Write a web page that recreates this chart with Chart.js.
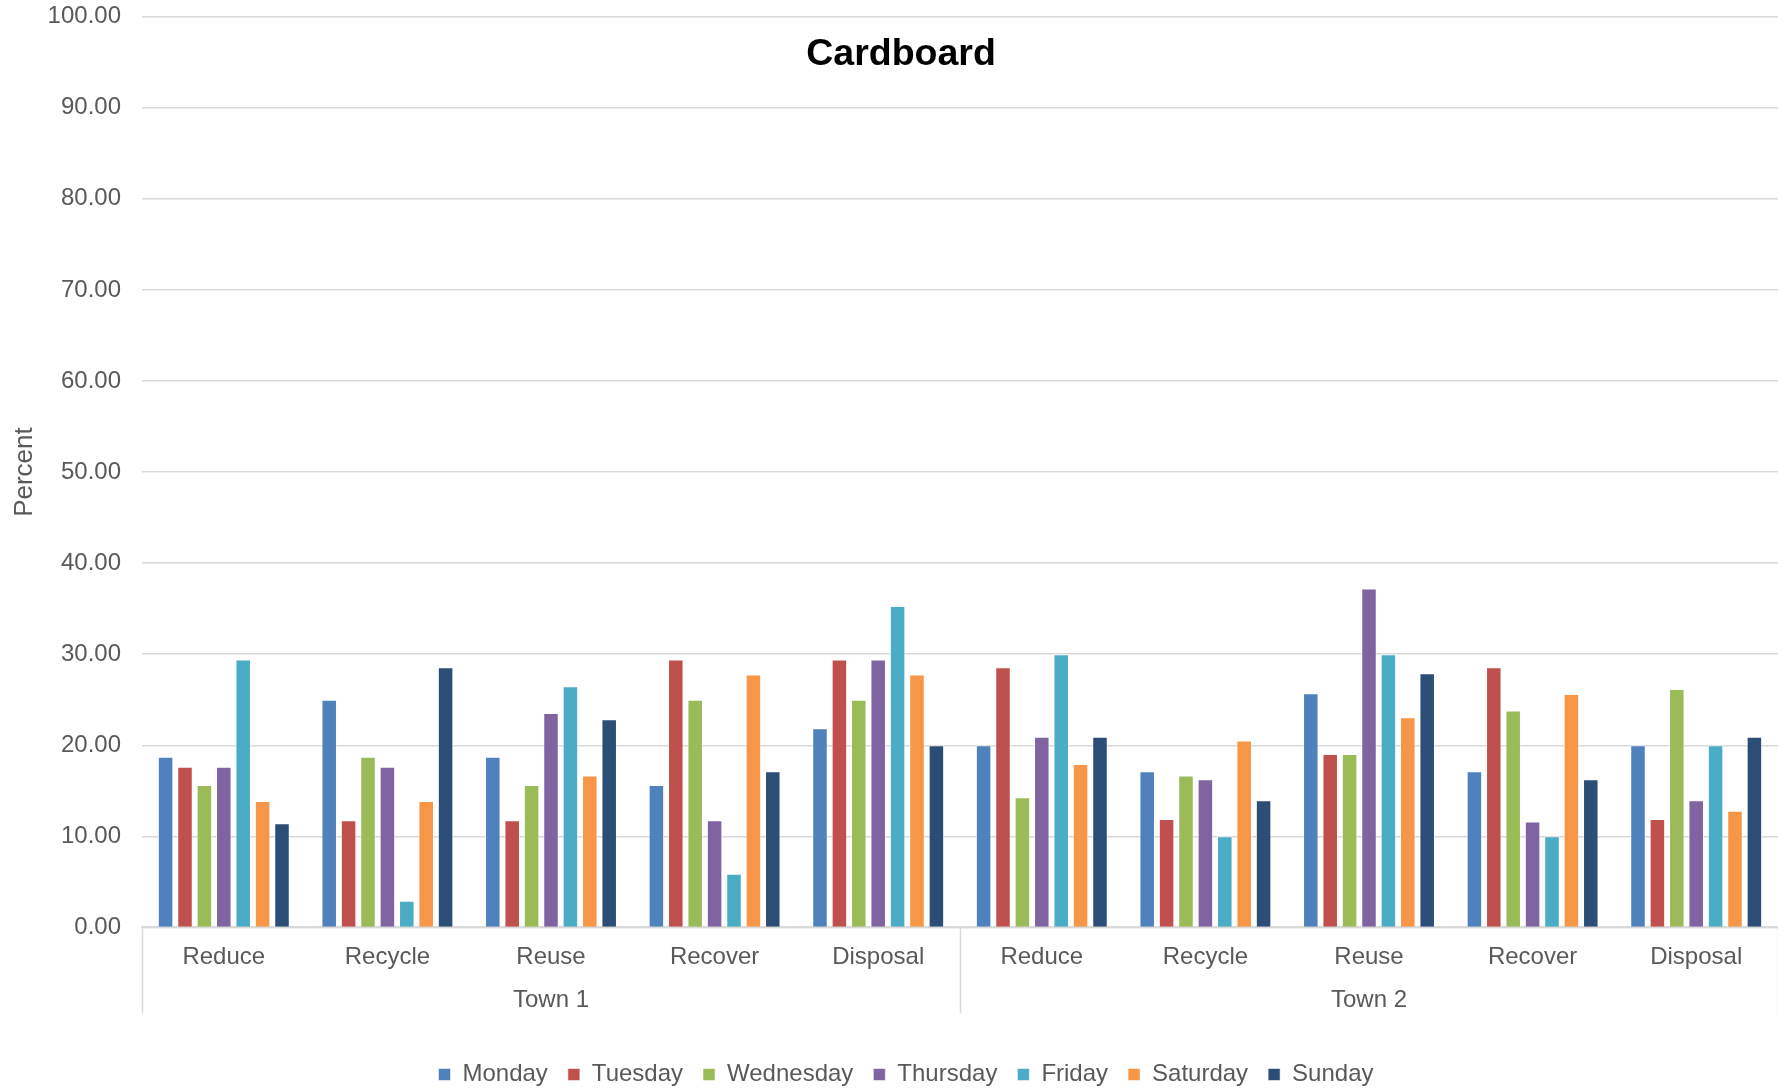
<!DOCTYPE html>
<html>
<head>
<meta charset="utf-8">
<script src="https://cdn.jsdelivr.net/npm/chart.js@4"></script>
<style>
  html, body { margin: 0; padding: 0; background: #fff; }
  #wrap { width: 1778px; height: 1092px; }
</style>
</head>
<body>
<div id="wrap"><canvas id="cardboardChart"></canvas></div>
<script>
// categories and groups
const categories = ['Reduce', 'Recycle', 'Reuse', 'Recover', 'Disposal',
                    'Reduce', 'Recycle', 'Reuse', 'Recover', 'Disposal'];
const towns = ['Town 1', 'Town 2'];

// percent values per weekday (Town 1 x5, then Town 2 x5)
const monday    = [18.75, 25.00, 18.75, 15.63, 21.88, 20.00, 17.14, 25.71, 17.14, 20.00];
const tuesday   = [17.65, 11.76, 11.76, 29.41, 29.41, 28.57, 11.90, 19.05, 28.57, 11.90];
const wednesday = [15.63, 18.75, 15.63, 25.00, 25.00, 14.29, 16.67, 19.05, 23.81, 26.19];
const thursday  = [17.65, 17.65, 23.53, 11.76, 29.41, 20.93, 16.28, 37.21, 11.63, 13.95];
const friday    = [29.41,  2.94, 26.47,  5.88, 35.29, 30.00, 10.00, 30.00, 10.00, 20.00];
const saturday  = [13.89, 13.89, 16.67, 27.78, 27.78, 17.95, 20.51, 23.08, 25.64, 12.82];
const sunday    = [11.43, 28.57, 22.86, 17.14, 20.00, 20.93, 13.95, 27.91, 16.28, 20.93];

const dayNames = ['Monday', 'Tuesday', 'Wednesday', 'Thursday', 'Friday', 'Saturday', 'Sunday'];
const dayValues = [monday, tuesday, wednesday, thursday, friday, saturday, sunday];
const dayColors = ['#4F81BD', '#C0504D', '#9BBB59', '#8064A2', '#4BACC6', '#F79646', '#2C4D75'];

const yTicks = { min: 0, max: 100, step: 10 };

const FONT = "'Liberation Sans', Arial, sans-serif";
const GREY_TEXT = '#595959';
const GRID = '#d9d9d9';

// separator lines between the two towns, the chart title, legend nudge
const overlayPlugin = {
  id: 'overlay',
  afterLayout(chart) {
    // the legend in the original sits a bit right of the canvas centre
    chart.legend.left += 17;
    chart.legend.right += 17;
  },
  afterDraw(chart) {
    const ctx = chart.ctx;
    const x = chart.scales.x;
    const x2 = chart.scales.x2;
    ctx.save();
    ctx.strokeStyle = GRID;
    ctx.lineWidth = 1.5;
    [-0.5, 4.5, 9.5].forEach(v => {
      const px = Math.round(x.getPixelForValue(v)) + 0.5;
      ctx.beginPath();
      ctx.moveTo(px, x.top);
      ctx.lineTo(px, x2.top + 36);
      ctx.stroke();
    });
    ctx.fillStyle = '#000';
    ctx.font = 'bold 37.5px ' + FONT;
    ctx.textAlign = 'center';
    ctx.textBaseline = 'middle';
    ctx.fillText('Cardboard', chart.width / 2 + 12, 55);
    ctx.restore();
  }
};

document.addEventListener('DOMContentLoaded', () => {
  const ctx = document.getElementById('cardboardChart').getContext('2d');
  new Chart(ctx, {
    type: 'bar',
    data: {
      labels: categories,
      datasets: dayNames.map((name, i) => ({
        label: name,
        data: dayValues[i],
        backgroundColor: dayColors[i],
        borderColor: 'rgba(255,255,255,0.55)',
        borderWidth: 1,
        categoryPercentage: 0.83,
        barPercentage: 0.8,
        xAxisID: 'x'
      }))
    },
    options: {
      responsive: true,
      maintainAspectRatio: false,
      animation: false,
      layout: { padding: { top: 0, right: 0, left: 0, bottom: -4.5 } },
      plugins: {
        tooltip: { enabled: false },
        legend: {
          position: 'bottom',
          labels: {
            color: GREY_TEXT,
            font: { family: FONT, size: 24 },
            boxWidth: 12,
            boxHeight: 12,
            padding: 20
          }
        }
      },
      scales: {
        x: {
          type: 'category',
          position: 'bottom',
          weight: 0,
          grid: { display: false, drawTicks: false },
          border: { display: true, color: GRID, width: 2 },
          ticks: {
            color: GREY_TEXT,
            font: { family: FONT, size: 24 },
            padding: 16,
            maxRotation: 0,
            autoSkip: false
          },
          afterFit(scale) { scale.height = 50; }
        },
        x2: {
          type: 'category',
          labels: towns,
          position: 'bottom',
          weight: 1,
          offset: true,
          grid: { display: false, drawTicks: false },
          border: { display: false },
          ticks: {
            color: GREY_TEXT,
            font: { family: FONT, size: 24 },
            padding: 9,
            maxRotation: 0
          },
          afterFit(scale) { scale.height = 65.1; }
        },
        y: {
          min: yTicks.min,
          max: yTicks.max,
          grid: { color: GRID, lineWidth: 1.5, drawTicks: false },
          border: { display: false },
          ticks: {
            stepSize: yTicks.step,
            color: GREY_TEXT,
            font: { family: FONT, size: 24 },
            padding: 21,
            callback: v => Number(v).toFixed(2)
          },
          title: {
            display: true,
            text: 'Percent',
            color: GREY_TEXT,
            font: { family: FONT, size: 26 },
            padding: { top: 9, bottom: 0 }
          },
          afterFit(scale) {
            scale.width = 142;
            // only keep room for half of the top label
            scale.paddingTop = 16.7;
          }
        }
      }
    },
    plugins: [overlayPlugin]
  });
});
</script>
</body>
</html>
